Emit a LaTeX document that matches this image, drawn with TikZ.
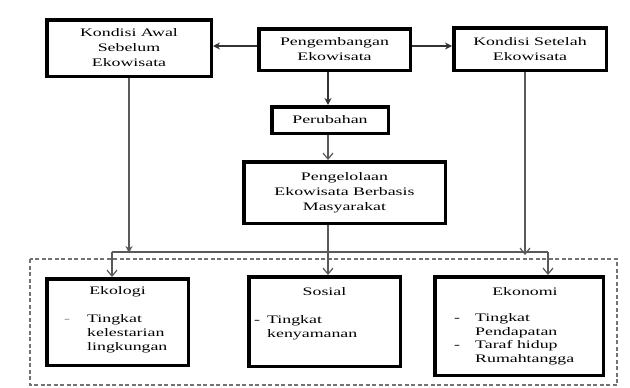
\documentclass[tikz,border=0pt]{standalone}
\usepackage{fontspec}
\setmainfont[FakeStretch=1.55]{Liberation Serif}
\usetikzlibrary{arrows.meta}
\begin{document}
\begin{tikzpicture}[x=1pt,y=-1pt,
  box/.style={draw, line width=3.5pt, inner sep=0pt, align=center, font=\fontsize{11.5}{15}\selectfont},
  txt/.style={inner sep=0pt, font=\fontsize{11.5}{14}\selectfont},
  conn/.style={draw=black!65, line width=1.6pt},
  tipA/.style={-{Stealth[length=7pt,width=7pt]}},
  tipB/.style={-{Straight Barb[length=6pt,width=10pt,line width=1.2pt]}},
  dbox/.style={draw=black!55, line width=1.6pt, dash pattern=on 4pt off 2.5pt}]
\useasboundingbox (0,0) rectangle (630,388);
\fill[white] (0,0) rectangle (630,388);

% top row
\node[box, minimum width=164.5pt, minimum height=56.5pt] (A) at (129,48) {Kondisi Awal\\Sebelum\\Ekowisata};
\node[box, minimum width=151.5pt, minimum height=41.5pt] (P) at (334.5,49.5) {Pengembangan\\Ekowisata};
\node[box, minimum width=152.5pt, minimum height=42.5pt] (K) at (530,49) {Kondisi Setelah\\Ekowisata};
\node[box, minimum width=116.5pt, minimum height=26.5pt] (Per) at (330,120) {Perubahan};
\node[box, minimum width=201.5pt, minimum height=61.5pt] (Pg) at (344.5,192.5) {Pengelolaan\\Ekowisata Berbasis\\Masyarakat};

% dashed frame
\draw[dbox] (30,259) rectangle (617,385);

% bottom boxes
\node[box, minimum width=141.5pt, minimum height=86.5pt] (Eko) at (117.5,322) {};
\node[box, minimum width=151.5pt, minimum height=89.5pt] (Sos) at (324.5,321.5) {};
\node[box, minimum width=168.5pt, minimum height=98.5pt] (Ekn) at (519,326) {};

% texts in bottom boxes
\node[txt] (ekoT) at (117.5,292) {Ekologi};
\node[txt, text=black!45] (ekoD) at (67,321) {-};
\node[txt, anchor=north west, align=left] (ekoL) at (87,314) {Tingkat\\kelestarian\\lingkungan};

\node[txt] (sosT) at (324.5,292) {Sosial};
\node[txt] (sosD) at (257,322) {-};
\node[txt, anchor=north west, align=left] (sosL) at (267,315) {Tingkat\\kenyamanan};

\node[txt] (eknT) at (525,292) {Ekonomi};
\node[txt] (eknD1) at (457,320) {-};
\node[txt, anchor=north west, align=left] (eknL1) at (475,313) {Tingkat\\Pendapatan};
\node[txt] (eknD2) at (457,347) {-};
\node[txt, anchor=north west, align=left] (eknL2) at (475,340) {Taraf hidup\\Rumahtangga};

% helper coordinates
\coordinate (hy) at (0,46);
\coordinate (mx) at (328,0);
\coordinate (ax) at (129,0);
\coordinate (kx) at (525,0);
\coordinate (L1) at (112,252);
\coordinate (L2) at (548,252);

% connectors
\draw[conn, draw=black!80, tipA] (P.west |- hy) -- (A.east |- hy);
\draw[conn, draw=black!80, tipA] (P.east |- hy) -- (K.west |- hy);
\draw[conn, draw=black!80, tipA] (P.south -| mx) -- (Per.north -| mx);
\draw[conn, tipB] (Per.south -| mx) -- (Pg.north -| mx);
\draw[conn, line width=2pt] (L1) -- (L2);
\draw[conn, tipA] (A.south -| ax) -- ([yshift=-1pt]L1 -| ax);
\draw[conn, tipB] (K.south -| kx) -- ([yshift=-3pt]L2 -| kx);
\draw[conn, tipB] (L1) -- (Eko.north -| L1);
\draw[conn, tipB] (L2) -- (Ekn.north -| L2);
\draw[conn, tipB] (Pg.south -| mx) -- (Sos.north -| mx);
\end{tikzpicture}
\end{document}
